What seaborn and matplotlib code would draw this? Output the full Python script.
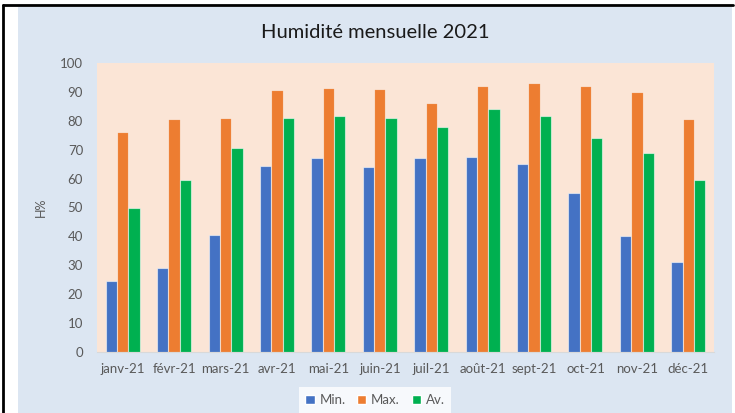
import pandas as pd
import seaborn as sns
import matplotlib.pyplot as plt
from matplotlib.patches import Rectangle
from matplotlib.lines import Line2D

# Monthly humidity values
mois = ['janv-21', 'févr-21', 'mars-21', 'avr-21', 'mai-21', 'juin-21',
        'juil-21', 'août-21', 'sept-21', 'oct-21', 'nov-21', 'déc-21']
h_min = [24.5, 29, 40.5, 64.5, 67, 64, 67, 67.5, 65, 55, 40, 31]
h_max = [76, 80.5, 81, 90.5, 91.5, 91, 86, 92, 93, 92, 90, 80.5]
h_av = [50, 59.5, 70.5, 81, 81.5, 81, 78, 84, 81.5, 74, 69, 59.5]
series = ['Min.', 'Max.', 'Av.']
colors = ['#4472C4', '#ED7D31', '#00B050']

df = pd.DataFrame({'mois': mois, 'Min.': h_min, 'Max.': h_max, 'Av.': h_av})
long_df = df.melt(id_vars='mois', var_name='serie', value_name='H')

sns.set_style('white')
plt.rcParams['font.family'] = ['Lato', 'DejaVu Sans']

fig = plt.figure(figsize=(7.35, 4.13), dpi=100, facecolor='white')

# chart area background + black frame lines
fig.patches.append(Rectangle((18 / 735, 0), (732 - 18) / 735, 1 - 7 / 413,
                             transform=fig.transFigure, facecolor='#DCE6F2',
                             edgecolor='none', zorder=-5))
fig.lines.append(Line2D([3 / 735, 3 / 735], [0, 1 - 5 / 413], transform=fig.transFigure,
                        color='black', lw=2))
fig.lines.append(Line2D([3 / 735, 733 / 735], [1 - 5 / 413, 1 - 5 / 413],
                        transform=fig.transFigure, color='black', lw=2))

ax = fig.add_axes([97 / 735, 61 / 413, (714 - 97) / 735, (352 - 63) / 413])
ax.set_facecolor('#FBE5D6')

sns.barplot(data=long_df, x='mois', y='H', hue='serie', hue_order=series,
            palette=colors, width=0.66, edgecolor=(1, 1, 1, 0.55), linewidth=0.8,
            saturation=1, ax=ax, legend=False)

ax.set_ylim(0, 100)
ax.set_yticks(range(0, 101, 10))
ax.set_xlim(-0.5, 11.5)
for s in ['top', 'right', 'left']:
    ax.spines[s].set_visible(False)
ax.spines['bottom'].set_color('#D9D9D9')
ax.tick_params(axis='both', length=0, labelsize=9.5, labelcolor='#595959')
ax.tick_params(axis='x', pad=8)
ax.tick_params(axis='y', pad=10)
ax.set_xlabel('')
ax.set_ylabel('H%', fontsize=9, color='#595959')
ax.yaxis.set_label_coords(-50 / 617, 0.5)

fig.text(375 / 735, 1 - 33 / 413, 'Humidité mensuelle 2021', ha='center', va='center',
         fontsize=14.5, color='#1a1a1a')

handles = [Rectangle((0, 0), 1, 1, facecolor=c) for c in colors]
leg = fig.legend(handles, series, loc='center', bbox_to_anchor=(375 / 735, 13 / 413),
                 ncol=3, frameon=True, fancybox=False, fontsize=9.5, handlelength=0.7,
                 handleheight=0.7, handletextpad=0.35, columnspacing=0.9,
                 borderpad=0.5)
leg.get_frame().set_facecolor('white')
leg.get_frame().set_edgecolor('none')
for t in leg.get_texts():
    t.set_color('#595959')

fig.savefig('out.png', dpi=100, facecolor='white')
